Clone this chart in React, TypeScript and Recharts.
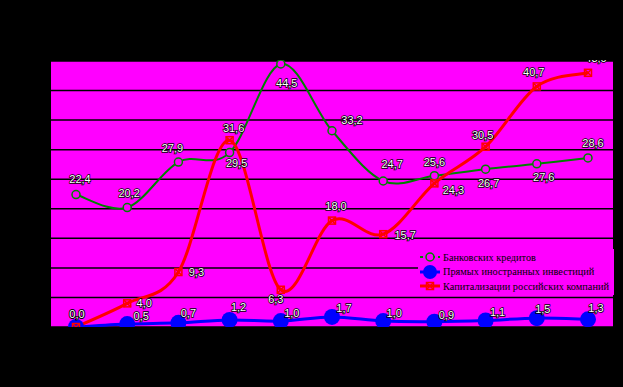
import React from 'react';
import { LineChart, Line, XAxis, YAxis, CartesianGrid, LabelList } from 'recharts';

const years = ['1', '2', '3', '4', '5', '6', '7', '8', '9', '10', '11'];
const bankLoans = [22.4, 20.2, 27.9, 29.5, 44.5, 33.2, 24.7, 25.6, 26.7, 27.6, 28.6];
const foreignInvest = [0.0, 0.5, 0.7, 1.2, 1.0, 1.7, 1.0, 0.9, 1.1, 1.5, 1.3];
const capitalization = [0.0, 4.0, 9.3, 31.6, 6.3, 18.0, 15.7, 24.3, 30.5, 40.7, 43.0];
const yTicks = [0, 5, 10, 15, 20, 25, 30, 35, 40, 45];

const seriesNames = [
    'Банковских кредитов',
    'Прямых иностранных инвестиций',
    'Капитализации российских компаний',
];

// label nudges [dx, dy] from each point
const greenNudge = [[4, -16], [2, -15], [-6, -14], [7, 10], [6, 19], [20, -11], [9, -17], [0, -14], [3, 14], [7, 13], [5, -15]];
const blueNudge = [[1, -13], [14, -8], [10, -10], [9, -13], [11, -8], [12, -9], [11, -8], [12, -7], [12, -8], [6, -9], [8, -11]];
const redNudge = [[1, -13], [17, 0], [18, 0], [4, -12], [-5, 9], [4, -15], [22, 1], [19, 7], [-3, -12], [-3, -14], [8, -15]];

const data = years.map((y, i) => ({
    year: y,
    bank: bankLoans[i],
    fdi: foreignInvest[i],
    cap: capitalization[i],
}));

const MAGENTA = '#FF00FF';
const GREEN = '#008000';
const BLUE = '#0000FF';
const RED = '#FF0000';

// Excel-like smoothed line (Catmull-Rom through points)
const excelSmooth = (context: any) => {
    let pts: number[][] = [];
    return {
        areaStart() {},
        areaEnd() {},
        lineStart() { pts = []; },
        point(x: number, y: number) { pts.push([+x, +y]); },
        lineEnd() {
            const n = pts.length;
            if (!n) return;
            context.moveTo(pts[0][0], pts[0][1]);
            for (let i = 0; i < n - 1; i++) {
                const p0 = pts[Math.max(i - 1, 0)];
                const p1 = pts[i];
                const p2 = pts[i + 1];
                const p3 = pts[Math.min(i + 2, n - 1)];
                context.bezierCurveTo(
                    p1[0] + (p2[0] - p0[0]) / 6, p1[1] + (p2[1] - p0[1]) / 6,
                    p2[0] - (p3[0] - p1[0]) / 6, p2[1] - (p3[1] - p1[1]) / 6,
                    p2[0], p2[1]
                );
            }
        },
    };
};

const makeLabel = (nudge: number[][]) => (props: any) => {
    const vb = props.viewBox || {};
    const x = props.x ?? vb.x;
    const y = props.y ?? vb.y;
    const i = props.index ?? 0;
    const [dx, dy] = nudge[i] || [0, -12];
    if (x == null || y == null) return null;
    return (
        <text
            x={x + dx}
            y={y + dy}
            textAnchor="middle"
            dominantBaseline="central"
            fontFamily="'Liberation Sans', Arial, sans-serif"
            fontSize={11}
            fill="#fff"
            stroke="#000"
            strokeWidth={1.5}
            style={{ paintOrder: 'stroke' }}
        >
            {Number(props.value).toFixed(1).replace('.', ',')}
        </text>
    );
};

const OpenDot = (props: any) => {
    const { cx, cy } = props;
    if (cx == null) return null;
    return <circle cx={cx} cy={cy} r={4} fill={MAGENTA} stroke={GREEN} strokeWidth={1.5} />;
};

const BigDot = (props: any) => {
    const { cx, cy } = props;
    if (cx == null) return null;
    return <circle cx={cx} cy={cy} r={8} fill={BLUE} stroke="none" />;
};

const CrossDot = (props: any) => {
    const { cx, cy } = props;
    if (cx == null) return null;
    const s = 3.5;
    return (
        <g stroke={RED} strokeWidth={1.5} fill="none">
            <rect x={cx - s} y={cy - s} width={s * 2} height={s * 2} />
            <line x1={cx - s} y1={cy - s} x2={cx + s} y2={cy + s} />
            <line x1={cx + s} y1={cy - s} x2={cx - s} y2={cy + s} />
        </g>
    );
};

function LegendBox() {
    const row = (i: number, color: string, marker: React.ReactNode) => (
        <div key={i} style={{ display: 'flex', alignItems: 'center', height: 14.5 }}>
            <svg width={24} height={14} style={{ flex: 'none' }}>
                <line x1={2} y1={7} x2={22} y2={7} stroke={color} strokeWidth={i === 0 ? 2 : 3} strokeDasharray={i === 0 ? '3 9 3' : undefined} />
                {marker}
            </svg>
            <span style={{ marginLeft: 1 }}>{seriesNames[i]}</span>
        </div>
    );
    return (
        <div
            style={{
                position: 'absolute',
                left: 418,
                top: 249,
                width: 196,
                height: 46,
                background: MAGENTA,
                fontFamily: "'Liberation Serif', 'Times New Roman', serif",
                fontSize: 10.3,
                color: '#000',
                paddingTop: 1,
                boxSizing: 'border-box',
                whiteSpace: 'nowrap',
            }}
        >
            {row(0, GREEN, <circle cx={12} cy={7} r={4} fill={MAGENTA} stroke={GREEN} strokeWidth={1.5} />)}
            {row(1, BLUE, <circle cx={12} cy={7} r={7} fill={BLUE} />)}
            {row(2, RED, (
                <g stroke={RED} strokeWidth={1.5} fill="none">
                    <rect x={8.5} y={3.5} width={7} height={7} />
                    <line x1={8.5} y1={3.5} x2={15.5} y2={10.5} />
                    <line x1={15.5} y1={3.5} x2={8.5} y2={10.5} />
                </g>
            ))}
        </div>
    );
}

export default function App() {
    return (
        <div style={{ position: 'fixed', left: 0, top: 0, width: 623, height: 387, background: '#000', overflow: 'hidden' }}>
            <LineChart width={623} height={387} data={data} margin={{ top: 61, right: 10, bottom: 60, left: 51 }}>
                <CartesianGrid vertical={false} fill={MAGENTA} fillOpacity={1} stroke="#000" strokeWidth={1.5} />
                <XAxis dataKey="year" hide padding={{ left: 25, right: 25 }} />
                <YAxis hide domain={[0, 45]} ticks={yTicks} />
                <Line
                    dataKey="bank"
                    name={seriesNames[0]}
                    type={excelSmooth as any}
                    stroke={GREEN}
                    strokeWidth={2}
                    dot={<OpenDot />}
                    activeDot={false}
                    isAnimationActive={false}
                >
                    <LabelList dataKey="bank" content={makeLabel(greenNudge)} />
                </Line>
                <Line
                    dataKey="fdi"
                    name={seriesNames[1]}
                    type={excelSmooth as any}
                    stroke={BLUE}
                    strokeWidth={3}
                    dot={<BigDot />}
                    activeDot={false}
                    isAnimationActive={false}
                >
                    <LabelList dataKey="fdi" content={makeLabel(blueNudge)} />
                </Line>
                <Line
                    dataKey="cap"
                    name={seriesNames[2]}
                    type={excelSmooth as any}
                    stroke={RED}
                    strokeWidth={3}
                    dot={<CrossDot />}
                    activeDot={false}
                    isAnimationActive={false}
                >
                    <LabelList dataKey="cap" content={makeLabel(redNudge)} />
                </Line>
            </LineChart>
            <LegendBox />
            <div style={{ position: 'absolute', left: 0, top: 0, width: 623, height: 60, background: '#000' }} />
            <div style={{ position: 'absolute', left: 0, top: 327, width: 623, height: 60, background: '#000' }} />
        </div>
    );
}
